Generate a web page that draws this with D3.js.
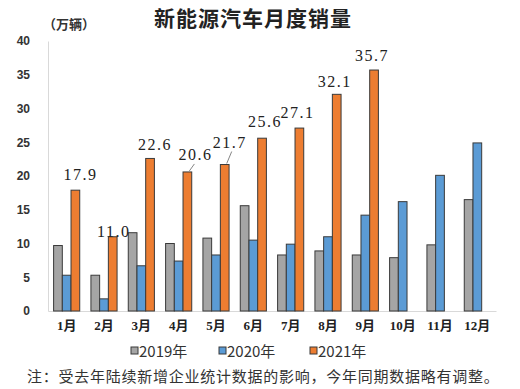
<!DOCTYPE html>
<html>
<head>
<meta charset="utf-8">
<script src="https://cdn.jsdelivr.net/npm/d3@7"></script>
<style>
  body { margin: 0; background: #fff; }
  svg { display: block; }
</style>
</head>
<body>
<div id="chart"></div>
<script>
// --- data
const months = ['1月', '2月', '3月', '4月', '5月', '6月', '7月', '8月', '9月', '10月', '11月', '12月'];
const seriesNames = ['2019年', '2020年', '2021年'];
const sales2019 = [9.7, 5.3, 11.6, 10.0, 10.8, 15.6, 8.3, 8.9, 8.3, 7.9, 9.8, 16.5];
const sales2020 = [5.3, 1.8, 6.7, 7.4, 8.3, 10.5, 9.9, 11.0, 14.2, 16.2, 20.1, 24.9];
const sales2021 = [17.9, 11.0, 22.6, 20.6, 21.7, 25.6, 27.1, 32.1, 35.7];
const yTicks = [0, 5, 10, 15, 20, 25, 30, 35, 40];

const width = 520;
const height = 389;
const colors = ['#a5a5a5', '#5b9bd5', '#ed7d31'];

const svg = d3.select('#chart')
    .append('svg')
    .attr('width', width)
    .attr('height', height);

// --- scales
const x0 = d3.scaleBand()
    .domain(months)
    .range([48, 496])
    .paddingInner(0.3)
    .paddingOuter(0.15);
const x1 = d3.scaleBand()
    .domain(seriesNames)
    .range([0, x0.bandwidth()]);
const y = d3.scaleLinear().domain([0, 40]).range([311, 41]);

// --- title + unit
svg.append('text')
    .attr('x', 253).attr('y', 26)
    .attr('text-anchor', 'middle')
    .attr('font-family', '"Noto Sans CJK SC", sans-serif')
    .attr('font-weight', 'bold')
    .attr('font-size', 21)
    .attr('letter-spacing', 1)
    .attr('fill', '#222')
    .text('新能源汽车月度销量');

svg.append('text')
    .attr('x', 43).attr('y', 29)
    .attr('font-family', '"Noto Sans CJK SC", sans-serif')
    .attr('font-weight', 'bold')
    .attr('font-size', 13)
    .attr('fill', '#333')
    .text('（万辆）');

// --- y axis
const gy = svg.append('g')
    .attr('transform', 'translate(48,0)')
    .call(d3.axisLeft(y).tickValues(yTicks).tickSize(0).tickPadding(18));
gy.select('.domain').attr('stroke', '#d9d9d9');
gy.selectAll('text')
    .attr('font-family', '"Liberation Sans", Arial, sans-serif')
    .attr('font-weight', 'bold')
    .attr('font-size', 12)
    .attr('fill', '#333');

// --- x axis
const gx = svg.append('g')
    .attr('transform', `translate(0,${y(0)})`)
    .call(d3.axisBottom(x0).tickSize(0).tickPadding(10));
gx.select('.domain').attr('stroke', '#d9d9d9');
gx.selectAll('text')
    .attr('font-family', '"Liberation Serif", "Noto Sans CJK SC", serif')
    .attr('font-weight', 'bold')
    .attr('font-size', 13)
    .attr('fill', '#222');

// --- bars
const series = [sales2019, sales2020, sales2021];
const bars = [];
series.forEach((vals, s) => {
    vals.forEach((v, i) => bars.push({ month: months[i], series: seriesNames[s], s, v }));
});

svg.append('g')
    .selectAll('rect')
    .data(bars)
    .join('rect')
    .attr('x', d => x0(d.month) + x1(d.series))
    .attr('y', d => y(d.v))
    .attr('width', x1.bandwidth())
    .attr('height', d => y(0) - y(d.v))
    .attr('fill', d => colors[d.s])
    .attr('stroke', '#3a3a3a')
    .attr('stroke-width', 1);

// --- 2021 labels (small nudges to follow the reference layout)
const nudge = {
    '1月': [5, -10], '2月': [1, 0], '3月': [5, -8], '4月': [8, -12, true],
    '5月': [5, -17, true], '6月': [3, -11], '7月': [-2, -10], '8月': [-2, -7], '9月': [-2, -9]
};
const lbl = svg.append('g');
sales2021.forEach((v, i) => {
    const m = months[i];
    const cx = x0(m) + x1('2021年') + x1.bandwidth() / 2;
    const [dx, dy, leader] = nudge[m];
    const ty = y(v) + dy;
    if (leader) {
        lbl.append('line')
            .attr('x1', cx + 2).attr('y1', y(v) - 1)
            .attr('x2', cx + 7).attr('y2', ty + 4)
            .attr('stroke', '#666').attr('stroke-width', 0.8);
    }
    lbl.append('text')
        .attr('x', cx + dx).attr('y', ty)
        .attr('text-anchor', 'middle')
        .attr('font-family', '"Liberation Serif", serif')
        .attr('font-size', 16)
        .attr('letter-spacing', 1.5)
        .attr('fill', '#222')
        .text(v.toFixed(1));
});

// --- legend
const legendX = [131, 219, 310];
const lg = svg.append('g');
seriesNames.forEach((name, s) => {
    lg.append('rect')
        .attr('x', legendX[s]).attr('y', 347)
        .attr('width', 7).attr('height', 7)
        .attr('fill', colors[s])
        .attr('stroke', '#3a3a3a');
    lg.append('text')
        .attr('x', legendX[s] + 8).attr('y', 357)
        .attr('font-family', '"Noto Sans CJK SC", sans-serif')
        .attr('font-size', 15)
        .attr('fill', '#333')
        .text(name);
});

// --- note
svg.append('text')
    .attr('x', 27).attr('y', 382)
    .attr('font-family', '"Noto Sans CJK SC", sans-serif')
    .attr('font-size', 15)
    .attr('letter-spacing', 0.75)
    .attr('fill', '#333')
    .text('注：受去年陆续新增企业统计数据的影响，今年同期数据略有调整。');
</script>
</body>
</html>
